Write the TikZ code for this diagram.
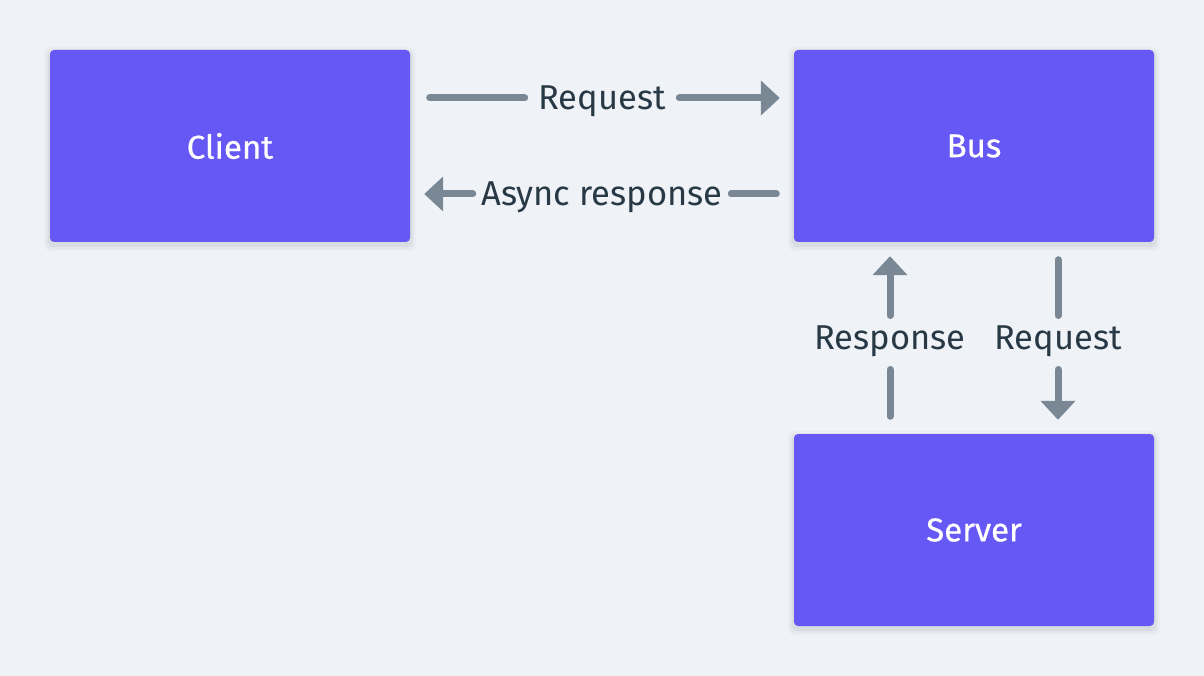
\documentclass[tikz,border=0pt]{standalone}
\usepackage{fontspec}
\setmainfont{Fira Sans}
\newfontfamily\medfont{Fira Sans}[FakeBold=0.6]
\usetikzlibrary{arrows.meta,calc}
\definecolor{bg}{HTML}{EFF3F7}
\definecolor{boxc}{HTML}{6658F5}
\definecolor{linec}{HTML}{7A8794}
\definecolor{txtc}{HTML}{283845}
\tikzset{
  box/.style={fill=boxc, rounded corners=4pt, minimum width=360pt, minimum height=192pt, text=white, font=\medfont\fontsize{33}{40}\selectfont, inner sep=0pt},
  lbl/.style={text=txtc, font=\fontsize{34.5}{40}\selectfont, inner sep=0pt, text height=30pt, text depth=6.2pt},
  conn/.style={draw=linec, line width=7pt, line cap=round},
  tip/.style={-{Triangle[width=34pt,length=19pt]}},
}
\begin{document}
\begin{tikzpicture}[x=1pt,y=-1pt]
\fill[bg] (0,0) rectangle (1204,676);
\useasboundingbox (0,0) rectangle (1204,676);
\foreach \s/\o in {6/0.02,4/0.03,2/0.04}{
  \fill[black,opacity=\o,rounded corners=6pt] (50-\s,50-\s+3) rectangle (410+\s,242+\s+3);
  \fill[black,opacity=\o,rounded corners=6pt] (794-\s,50-\s+3) rectangle (1154+\s,242+\s+3);
  \fill[black,opacity=\o,rounded corners=6pt] (794-\s,434-\s+3) rectangle (1154+\s,626+\s+3);
}
\node[box] (client) at (230,146) {Client};
\node[box] (bus) at (974,146) {Bus};
\node[box] (server) at (974,530) {Server};
% labels
\node[lbl] (rq1) at ($(client.east)!0.5!(bus.west)+(0,-48)$) {Request};
\node[lbl] (asy) at ($(client.east)!0.5!(bus.west)+(0,48)$) {Async response};
\node[lbl] (rsp) at ($(bus.south)!0.5!(server.north)+(-84,0)$) {Response};
\node[lbl] (rq2) at ($(bus.south)!0.5!(server.north)+(84,0)$) {Request};
% client -> bus request
\draw[conn, shorten <=19.5pt, shorten >=13.5pt] (client.east |- rq1) -- (rq1.west);
\draw[conn, tip, shorten <=13.5pt, shorten >=14pt] (rq1.east) -- (bus.west |- rq1);
% bus -> client async
\draw[conn, shorten <=17.5pt, shorten >=8.5pt] (bus.west |- asy) -- (asy.east);
\draw[conn, tip, shorten <=8.5pt, shorten >=14pt] (asy.west) -- (client.east |- asy);
% server -> bus response
\draw[conn, shorten <=17.5pt] (server.north -| rsp) -- ([yshift=-31.5pt]rsp.center);
\draw[conn, tip, shorten >=14pt] ([yshift=22.5pt]rsp.center) -- (bus.south -| rsp);
% bus -> server request
\draw[conn, shorten <=17.5pt] (bus.south -| rq2) -- ([yshift=22.5pt]rq2.center);
\draw[conn, tip, shorten >=14pt] ([yshift=-31.5pt]rq2.center) -- (server.north -| rq2);
\end{tikzpicture}
\end{document}
